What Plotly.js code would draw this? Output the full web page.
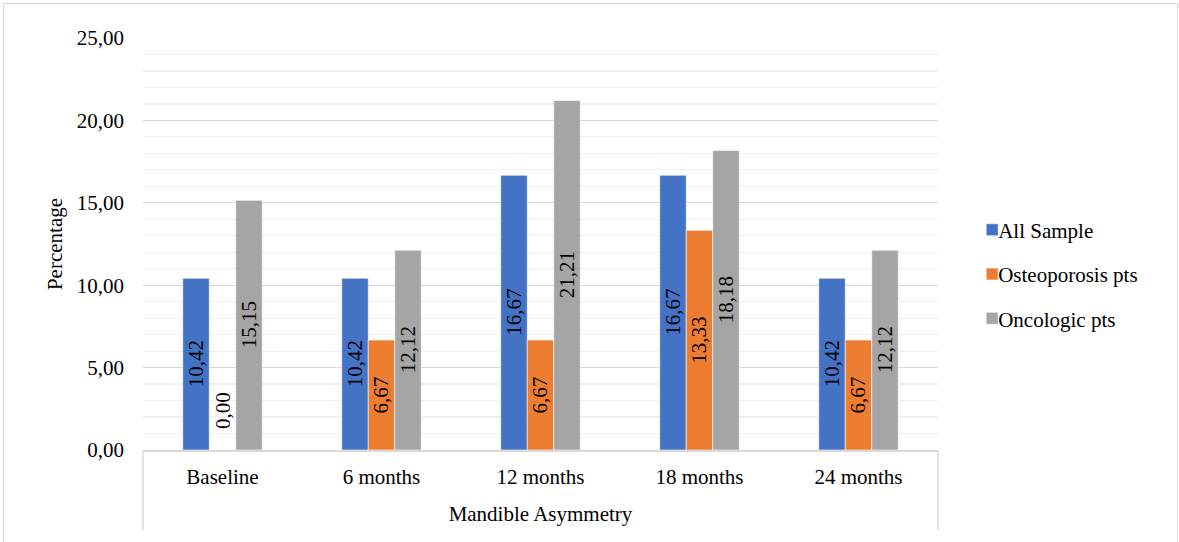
<!DOCTYPE html>
<html>
<head>
<meta charset="utf-8">
<script src="https://cdn.plot.ly/plotly-3.0.1.min.js"></script>
<style>
  html, body { margin: 0; padding: 0; background: #ffffff; overflow: hidden; }
  #wrap { position: relative; width: 1179px; height: 542px; }
  #chart { position: absolute; left: 0; top: 0; width: 1179px; height: 542px; }
  #frame { position: absolute; left: 3px; top: 3px; width: 1173px; height: 620px;
           border: 1.5px solid #d9d9d9; pointer-events: none; }
</style>
</head>
<body>
<div id="wrap">
  <div id="chart"></div>
  <div id="frame"></div>
</div>
<script>
// Mandible asymmetry rate (%) by follow-up time point
const timePoints = ['Baseline', '6 months', '12 months', '18 months', '24 months'];
const allSample = [10.42, 10.42, 16.67, 16.67, 10.42];
const osteoporosisPts = [0.00, 6.67, 6.67, 13.33, 6.67];
const oncologicPts = [15.15, 12.12, 21.21, 18.18, 12.12];
const seriesNames = ['All Sample', 'Osteoporosis pts', 'Oncologic pts'];
const seriesColors = ['#4472C4', '#ED7D31', '#A5A5A5'];
const yTickVals = [0, 5, 10, 15, 20, 25];

const FONT = 'Liberation Serif';
const BARGAP = 0.5;
const seriesValues = [allSample, osteoporosisPts, oncologicPts];

const fmt = v => v.toFixed(2).replace('.', ',');

const traces = seriesValues.map((vals, k) => ({
  type: 'bar',
  name: seriesNames[k],
  x: timePoints,
  y: vals,
  legendgroup: 'g' + k,
  marker: { color: seriesColors[k], line: { color: '#ffffff', width: 0.6 } },
  hoverinfo: 'x+y+name'
}));

// Value labels, rotated and centred on each bar
const barW = (1 - BARGAP) / seriesValues.length;
const annotations = [];
seriesValues.forEach((vals, k) => {
  vals.forEach((v, i) => {
    const zero = v === 0;
    annotations.push({
      x: i + (k - (seriesValues.length - 1) / 2) * barW,
      y: zero ? 0 : v / 2,
      xref: 'x', yref: 'y',
      text: fmt(v),
      showarrow: false,
      textangle: -90,
      xanchor: 'center',
      yanchor: zero ? 'bottom' : 'middle',
      yshift: zero ? 19 : 0,
      font: { family: FONT, size: 21, color: '#000000' }
    });
  });
});

// Category-axis box edges below the plot area
const shapes = [
  { type: 'line', xref: 'paper', yref: 'paper', x0: 0, x1: 0, y0: 0, y1: -0.194,
    line: { color: '#d9d9d9', width: 1.5 } },
  { type: 'line', xref: 'paper', yref: 'paper', x0: 1, x1: 1, y0: 0, y1: -0.194,
    line: { color: '#d9d9d9', width: 1.5 } }
];

const layout = {
  width: 1179,
  height: 542,
  margin: { l: 143, r: 241, t: 38, b: 92 },
  paper_bgcolor: '#ffffff',
  plot_bgcolor: '#ffffff',
  separators: ',.',
  font: { family: FONT, size: 21, color: '#000000' },
  barmode: 'group',
  bargap: BARGAP,
  bargroupgap: 0,
  showlegend: true,
  legend: {
    x: 1.043, xanchor: 'left',
    y: 0.427, yanchor: 'middle',
    font: { family: FONT, size: 21, color: '#000000' },
    tracegroupgap: 14,
    itemwidth: 30,
    bgcolor: 'rgba(0,0,0,0)'
  },
  xaxis: {
    type: 'category',
    title: { text: 'Mandible Asymmetry', font: { family: FONT, size: 21 }, standoff: 18 },
    showline: true,
    linecolor: '#d9d9d9',
    linewidth: 1.5,
    ticks: '',
    ticklabelstandoff: 7,
    tickfont: { family: FONT, size: 21 },
    showgrid: false,
    zeroline: false,
    fixedrange: true
  },
  yaxis: {
    range: [0, 25],
    tickvals: yTickVals,
    tickformat: '.2f',
    title: { text: 'Percentage', font: { family: FONT, size: 21 }, standoff: 8 },
    ticks: '',
    ticklabelstandoff: 18,
    tickfont: { family: FONT, size: 21 },
    showgrid: true,
    gridcolor: '#d9d9d9',
    gridwidth: 1.2,
    minor: { dtick: 1, showgrid: true, gridcolor: '#f0f0f0', gridwidth: 1.2 },
    zeroline: false,
    showline: false,
    fixedrange: true
  },
  annotations: annotations,
  shapes: shapes
};

Plotly.newPlot('chart', traces, layout, { displayModeBar: false, staticPlot: true }).then(gd => {
  // pull legend text closer to its colour swatch
  gd.querySelectorAll('.legend .legendtext').forEach(t => {
    t.setAttribute('x', parseFloat(t.getAttribute('x')) - 14);
  });
});
</script>
</body>
</html>
